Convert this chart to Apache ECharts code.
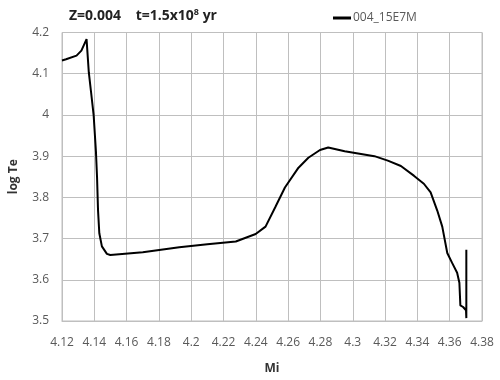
<!DOCTYPE html>
<html>
<head>
<meta charset="utf-8">
<script src="https://cdn.jsdelivr.net/npm/echarts@6/dist/echarts.min.js"></script>
<style>html,body{margin:0;padding:0;background:#fff}#c{width:500px;height:380px}</style>
</head>
<body>
<div id="c"></div>
<script>
var seriesName = '004_15E7M';
var miValues = [4.1200, 4.1225, 4.1290, 4.1320, 4.1352, 4.1366, 4.1380, 4.1396, 4.1410, 4.1417, 4.1423, 4.1431, 4.1447, 4.1478, 4.1499, 4.1700, 4.1926, 4.2100, 4.2276, 4.2399, 4.2460, 4.2520, 4.2580, 4.2664, 4.2725, 4.2797, 4.2848, 4.2950, 4.3134, 4.3217, 4.3298, 4.3380, 4.3440, 4.3482, 4.3523, 4.3554, 4.3585, 4.3615, 4.3646, 4.3660, 4.3666, 4.3683, 4.3701, 4.3703, 4.3703];
var logTeValues = [4.132, 4.135, 4.144, 4.156, 4.184, 4.103, 4.055, 3.999, 3.912, 3.848, 3.769, 3.713, 3.681, 3.663, 3.660, 3.667, 3.679, 3.686, 3.693, 3.711, 3.729, 3.776, 3.824, 3.872, 3.896, 3.915, 3.921, 3.912, 3.900, 3.889, 3.876, 3.852, 3.833, 3.812, 3.768, 3.729, 3.665, 3.641, 3.617, 3.593, 3.538, 3.534, 3.526, 3.507, 3.673];
var xTicks = {min: 4.12, max: 4.38, step: 0.02};
var yTicks = {min: 3.5, max: 4.2, step: 0.1};

var data = miValues.map(function (x, i) { return [x, logTeValues[i]]; });
var gridColor = '#bfbfbf';
var labelColor = '#595959';
var font = 'Open Sans';

var chart = echarts.init(document.getElementById('c'));
chart.setOption({
  animation: false,
  backgroundColor: '#fff',
  title: {
    text: 'Z=0.004    t=1.5x10{sup|8} yr',
    left: 64, top: 3,
    textStyle: {
      fontFamily: font, fontSize: 14, fontWeight: 'bold', color: '#222',
      rich: {
        sup: {fontFamily: font, fontSize: 9, fontWeight: 'bold', color: '#222', verticalAlign: 'top', padding: [0, 0, 7, 0]}
      }
    }
  },
  legend: {
    left: 328, top: 7,
    icon: 'rect', itemWidth: 18, itemHeight: 3, itemGap: 2,
    textStyle: {fontFamily: font, fontSize: 12, color: labelColor, padding: [0, 0, 0, -3]},
    data: [seriesName]
  },
  grid: {left: 58, right: 18, top: 32.5, bottom: 55, show: true, borderColor: gridColor, borderWidth: 1},
  xAxis: {
    type: 'value', min: xTicks.min, max: xTicks.max, interval: xTicks.step,
    name: 'Mi', nameLocation: 'middle', nameGap: 42,
    nameTextStyle: {fontFamily: font, fontSize: 12, fontWeight: 'bold', color: '#333'},
    axisLine: {show: true, lineStyle: {color: gridColor}},
    axisTick: {show: false},
    splitLine: {show: true, lineStyle: {color: gridColor}},
    axisLabel: {fontFamily: font, fontSize: 12, color: labelColor, margin: 16,
      formatter: function (v) { return String(Math.round(v * 100) / 100); }}
  },
  yAxis: {
    type: 'value', min: yTicks.min, max: yTicks.max, interval: yTicks.step,
    name: 'log Te', nameLocation: 'middle', nameGap: 42,
    nameTextStyle: {fontFamily: font, fontSize: 12, fontWeight: 'bold', color: '#333'},
    axisLine: {show: true, lineStyle: {color: gridColor}},
    axisTick: {show: false},
    splitLine: {show: true, lineStyle: {color: gridColor}},
    axisLabel: {fontFamily: font, fontSize: 12, color: labelColor, margin: 13,
      formatter: function (v) { return String(Math.round(v * 10) / 10); }}
  },
  series: [{
    name: seriesName, type: 'line', data: data,
    showSymbol: false, symbol: 'none', smooth: false,
    lineStyle: {color: '#000', width: 2}, itemStyle: {color: '#000'}
  }]
});
</script>
</body>
</html>
